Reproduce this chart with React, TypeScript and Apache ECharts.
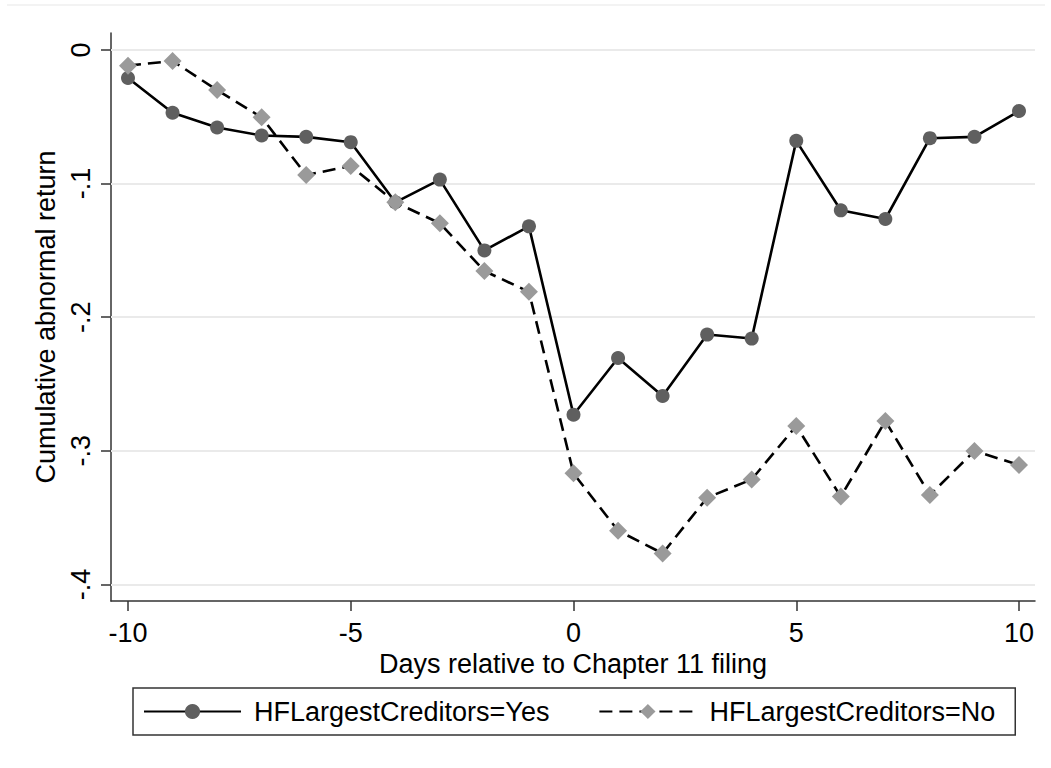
import React, { useEffect, useRef } from "react";
import * as echarts from "echarts";

const days = [-10, -9, -8, -7, -6, -5, -4, -3, -2, -1, 0, 1, 2, 3, 4, 5, 6, 7, 8, 9, 10];
const yesValues = [-0.021, -0.047, -0.058, -0.064, -0.065, -0.069, -0.114, -0.097, -0.15, -0.132, -0.273, -0.2305, -0.259, -0.213, -0.216, -0.068, -0.12, -0.1265, -0.066, -0.065, -0.0457];
const noValues = [-0.0117, -0.0082, -0.03, -0.0504, -0.0936, -0.0868, -0.114, -0.1297, -0.1654, -0.181, -0.3169, -0.3598, -0.3768, -0.3351, -0.3214, -0.2814, -0.3343, -0.2777, -0.3331, -0.3001, -0.3106];
const xTicks = [-10, -5, 0, 5, 10];
const yTicks = [0, -0.1, -0.2, -0.3, -0.4];
const seriesNames = ["HFLargestCreditors=Yes", "HFLargestCreditors=No"];

const FONT = "'Liberation Sans', Arial, Helvetica, sans-serif";
const FS = 27;

function fmtY(v: number): string {
  if (Math.abs(v) < 1e-9) return "0";
  const s = (Math.round(v * 10) / 10).toString();
  return s.replace("0.", ".");
}

export default function App() {
  const ref = useRef<HTMLDivElement>(null);
  useEffect(() => {
    if (!ref.current) return;
    const chart = echarts.init(ref.current, null, { renderer: "svg" });
    const axisColor = "#333333";
    chart.setOption({
      animation: false,
      backgroundColor: "#ffffff",
      textStyle: { fontFamily: FONT },
      graphic: [
        {
          type: "line",
          shape: { x1: 7, y1: 5, x2: 1045, y2: 5 },
          style: { stroke: "#efefef", lineWidth: 1.5 },
          silent: true,
        },
      ],
      grid: { left: 111, right: 16, top: 33, bottom: 167, containLabel: false },
      xAxis: {
        type: "value",
        min: -10.3816,
        max: 10.359,
        name: "Days relative to Chapter 11 filing",
        nameLocation: "middle",
        nameGap: 33,
        nameTextStyle: { fontSize: FS, color: "#000", fontFamily: FONT },
        axisLine: { show: true, onZero: false, lineStyle: { color: axisColor, width: 1.5 } },
        axisTick: { show: true, inside: false, length: 10, customValues: xTicks, lineStyle: { color: axisColor, width: 1.5 } },
        axisLabel: {
          show: true,
          customValues: xTicks,
          margin: 18,
          fontSize: FS,
          color: "#000",
          fontFamily: FONT,
          formatter: (v: number) => String(v),
        },
        splitLine: { show: false },
      },
      yAxis: {
        type: "value",
        min: -0.41243,
        max: 0.012725,
        name: "Cumulative abnormal return",
        nameLocation: "middle",
        nameRotate: 90,
        nameGap: 46,
        nameTextStyle: { fontSize: FS, color: "#000", fontFamily: FONT },
        axisLine: { show: true, onZero: false, lineStyle: { color: axisColor, width: 1.5 } },
        axisTick: { show: true, inside: false, length: 10, customValues: yTicks, lineStyle: { color: axisColor, width: 1.5 } },
        axisLabel: {
          show: true,
          customValues: yTicks,
          rotate: 90,
          margin: 17,
          fontSize: FS,
          color: "#000",
          fontFamily: FONT,
          formatter: (v: number) => fmtY(v),
        },
        splitLine: { show: false },
      },
      legend: {
        show: true,
        left: 133,
        top: 688,
        orient: "horizontal",
        padding: [10, 20, 10, 10],
        itemGap: 49,
        itemWidth: 97,
        itemHeight: 19,
        borderColor: "#333333",
        borderWidth: 1.5,
        backgroundColor: "#ffffff",
        textStyle: { fontSize: FS, color: "#000", fontFamily: FONT, padding: [0, 0, 0, 8] },
        data: seriesNames,
      },
      series: [
        {
          name: seriesNames[0],
          type: "line",
          data: days.map((d, i) => [d, yesValues[i]]),
          symbol: "circle",
          symbolSize: 14,
          showSymbol: true,
          itemStyle: { color: "#5f5f5f", borderWidth: 0 },
          lineStyle: { color: "#000000", width: 2.6, type: "solid" },
          z: 3,
          markLine: {
            silent: true,
            symbol: ["none", "none"],
            z: 1,
            label: { show: false },
            lineStyle: { color: "#eaeaea", width: 2, type: "solid" },
            emphasis: { disabled: true },
            data: yTicks.map((v) => ({ yAxis: v })),
          },
        },
        {
          name: seriesNames[1],
          type: "line",
          data: days.map((d, i) => [d, noValues[i]]),
          symbol: "diamond",
          symbolSize: 18,
          showSymbol: true,
          itemStyle: { color: "#9a9a9a", borderWidth: 0 },
          lineStyle: { color: "#000000", width: 2.6, type: [13, 7] },
          z: 4,
        },
      ],
    });
    return () => chart.dispose();
  }, []);
  return (
    <div
      ref={ref}
      style={{ position: "fixed", left: 0, top: 0, width: 1051, height: 768, background: "#fff" }}
    />
  );
}
